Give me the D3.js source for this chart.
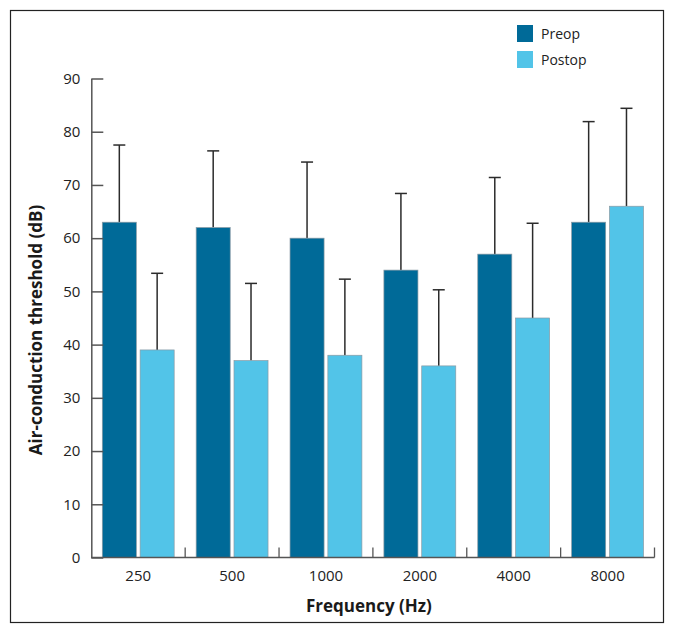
<!DOCTYPE html>
<html>
<head>
<meta charset="utf-8">
<script src="https://cdn.jsdelivr.net/npm/d3@7"></script>
<style>
  html, body { margin: 0; padding: 0; background: #fff; }
  svg { display: block; font-family: "Open Sans", "Noto Sans", sans-serif; }
</style>
</head>
<body>
<svg id="chart" width="673" height="635"></svg>
<script>
const categories = ["250", "500", "1000", "2000", "4000", "8000"];
const seriesNames = ["Preop", "Postop"];
const preop = [63, 62, 60, 54, 57, 63];
const postop = [39, 37, 38, 36, 45, 66];
const preopSD = [14.5, 14.4, 14.3, 14.4, 14.4, 18.9];
const postopSD = [14.4, 14.5, 14.3, 14.3, 17.8, 18.4];
const yTicks = [0, 10, 20, 30, 40, 50, 60, 70, 80, 90];

const colors = { Preop: "#006a98", Postop: "#52c4e8" };

const svg = d3.select("#chart");

// outer frame
svg.append("rect")
  .attr("x", 10.5).attr("y", 10.5)
  .attr("width", 653).attr("height", 612)
  .attr("fill", "none").attr("stroke", "#222").attr("stroke-width", 1.2);

const plotLeft = 91.3, plotRight = 654.5, plotTop = 78.5, plotBottom = 557.5;

const x = d3.scaleBand().domain(categories).range([plotLeft, plotRight]).paddingInner(0).paddingOuter(0);
const x1 = d3.scaleBand().domain(seriesNames).range([11, x.bandwidth() - 11]).paddingInner(0.1);
const y = d3.scaleLinear().domain([0, 90]).range([plotBottom, plotTop]);

const data = categories.map((c, i) => ({
  cat: c,
  values: [
    { s: "Preop", v: preop[i], sd: preopSD[i] },
    { s: "Postop", v: postop[i], sd: postopSD[i] }
  ]
}));

const groups = svg.append("g").selectAll("g").data(data).join("g")
  .attr("transform", d => `translate(${x(d.cat)},0)`);

groups.selectAll("g.err").data(d => d.values).join("g").attr("class", "err")
  .each(function(d) {
    const cx = x1(d.s) + x1.bandwidth() / 2;
    const g = d3.select(this);
    g.append("line")
      .attr("x1", cx).attr("x2", cx)
      .attr("y1", y(d.v)).attr("y2", y(d.v + d.sd))
      .attr("stroke", "#2b2b2b").attr("stroke-width", 1.5);
    g.append("line")
      .attr("x1", cx - 6).attr("x2", cx + 6)
      .attr("y1", y(d.v + d.sd)).attr("y2", y(d.v + d.sd))
      .attr("stroke", "#2b2b2b").attr("stroke-width", 1.5);
  });

groups.selectAll("rect").data(d => d.values).join("rect")
  .attr("x", d => x1(d.s))
  .attr("width", x1.bandwidth())
  .attr("y", d => y(d.v))
  .attr("height", d => y(0) - y(d.v))
  .attr("fill", d => colors[d.s])
  .attr("stroke", "#8a9aa4").attr("stroke-width", 0.7);

// y axis
const yAxis = svg.append("g")
  .attr("transform", `translate(${plotLeft},0)`)
  .call(d3.axisLeft(y).tickValues(yTicks).tickSizeInner(-12).tickSizeOuter(0).tickPadding(11));
yAxis.select(".domain").attr("stroke", "#555").attr("stroke-width", 1.5);
yAxis.selectAll(".tick line").attr("stroke", "#555").attr("stroke-width", 1.5);
yAxis.selectAll(".tick text").attr("font-size", 15).attr("fill", "#222")
  .attr("font-family", "'Open Sans', sans-serif");

// x axis (labels at band centres)
const xAxis = svg.append("g")
  .attr("transform", `translate(0,${plotBottom})`)
  .call(d3.axisBottom(x).tickSize(0).tickPadding(13));
xAxis.select(".domain").remove();
xAxis.selectAll(".tick text").attr("font-size", 15).attr("fill", "#222")
  .attr("font-family", "'Open Sans', sans-serif");

svg.append("line")
  .attr("x1", plotLeft).attr("x2", plotRight)
  .attr("y1", plotBottom).attr("y2", plotBottom)
  .attr("stroke", "#555").attr("stroke-width", 1.5);

// boundary ticks (upward)
svg.append("g").selectAll("line").data(categories)
  .join("line")
  .attr("x1", d => x(d) + x.bandwidth()).attr("x2", d => x(d) + x.bandwidth())
  .attr("y1", plotBottom).attr("y2", plotBottom - 10)
  .attr("stroke", "#555").attr("stroke-width", 1.3);

// axis titles
svg.append("text")
  .attr("x", (plotLeft + plotRight) / 2 - 4).attr("y", 612)
  .attr("text-anchor", "middle")
  .attr("font-size", 17).attr("font-weight", "bold").attr("fill", "#1a1a1a")
  .text("Frequency (Hz)");

svg.append("text")
  .attr("transform", `translate(42,${(plotTop + plotBottom) / 2 + 12}) rotate(-90)`)
  .attr("text-anchor", "middle")
  .attr("font-size", 17).attr("font-weight", "bold").attr("fill", "#1a1a1a")
  .text("Air-conduction threshold (dB)");

// legend
const legend = svg.append("g").attr("transform", "translate(517,25)");
seriesNames.forEach((s, i) => {
  legend.append("rect")
    .attr("x", 0).attr("y", i * 26)
    .attr("width", 16).attr("height", 17)
    .attr("fill", colors[s]);
  legend.append("text")
    .attr("x", 24).attr("y", i * 26 + 14)
    .attr("font-size", 14).attr("fill", "#222")
    .text(s);
});
</script>
</body>
</html>
